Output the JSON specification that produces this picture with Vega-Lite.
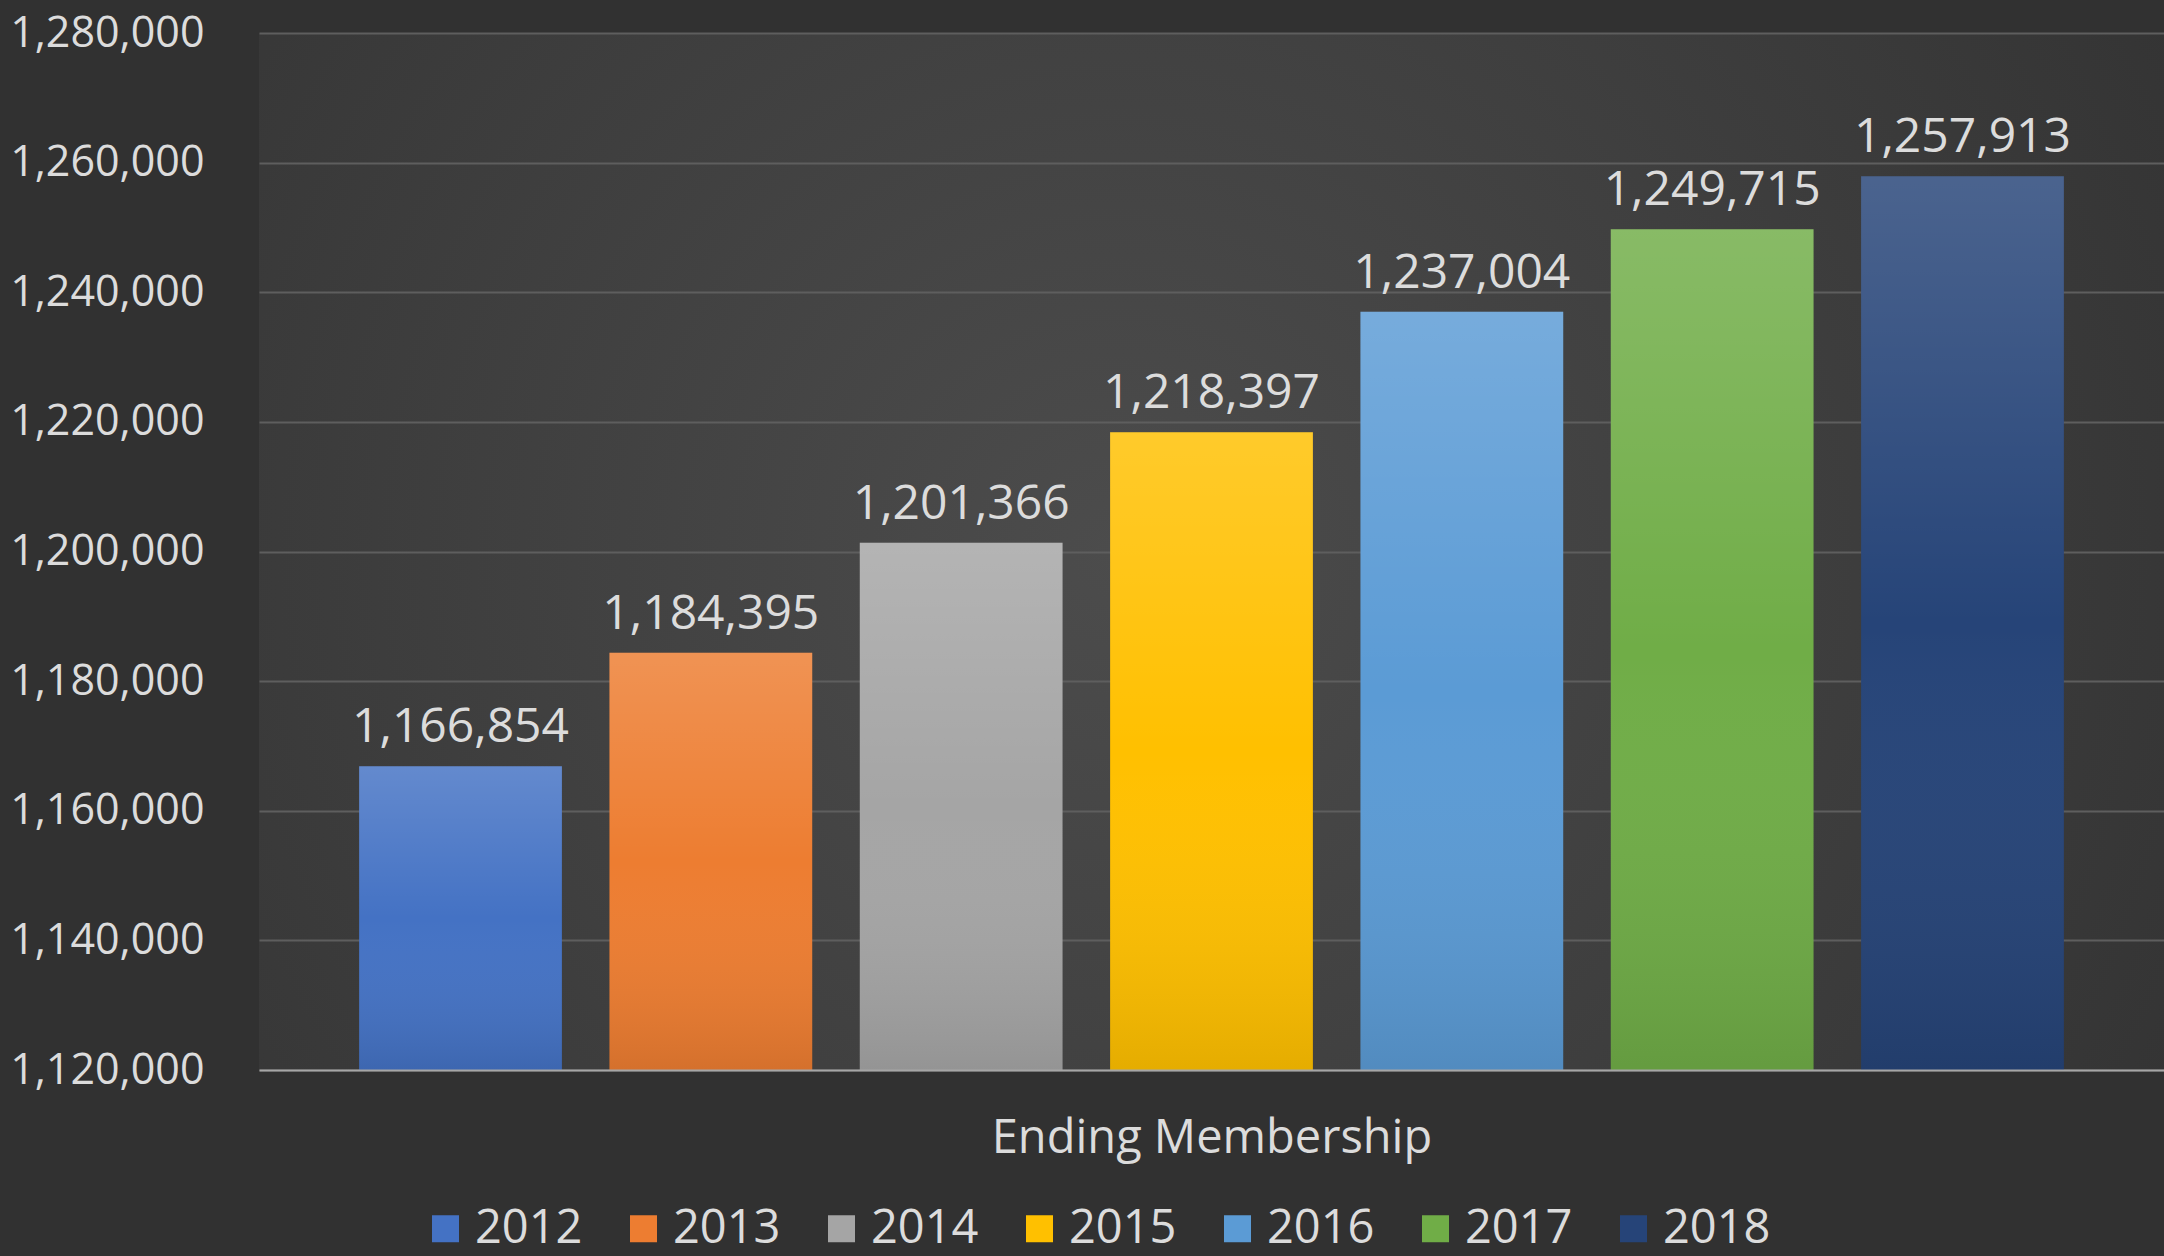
{
  "$schema": "https://vega.github.io/schema/vega-lite/v6.json",
  "width": 1905,
  "height": 1037,
  "autosize": {"type": "none"},
  "padding": {"left": 259, "top": 33, "right": 0, "bottom": 186},
  "background": "#313131",
  "config": {
    "font": "Open Sans",
    "view": {
      "stroke": null,
      "fill": {
        "gradient": "radial",
        "x1": 0.45, "y1": 0.5, "r1": 0,
        "x2": 0.45, "y2": 0.5, "r2": 0.7,
        "stops": [
          {"offset": 0, "color": "#4c4c4c"},
          {"offset": 1, "color": "#313131"}
        ]
      }
    }
  },
  "data": {
    "values": [
      {"year": "2012", "members": 1166854},
      {"year": "2013", "members": 1184395},
      {"year": "2014", "members": 1201366},
      {"year": "2015", "members": 1218397},
      {"year": "2016", "members": 1237004},
      {"year": "2017", "members": 1249715},
      {"year": "2018", "members": 1257913}
    ]
  },
  "encoding": {
    "x": {
      "field": "year",
      "type": "nominal",
      "scale": {"paddingInner": 0.19, "paddingOuter": 0.4},
      "axis": {
        "labels": false,
        "ticks": false,
        "grid": false,
        "title": "Ending Membership",
        "titleFont": "Open Sans",
        "titleFontSize": 47,
        "titleFontWeight": "normal",
        "titleColor": "#dcdcdc",
        "titlePadding": 45,
        "domainColor": "#a6a6a6",
        "domainWidth": 2,
        "zindex": 1
      }
    },
    "y": {
      "field": "members",
      "type": "quantitative",
      "scale": {"domain": [1120000, 1280000], "zero": false, "nice": false},
      "axis": {
        "title": null,
        "values": [1120000, 1140000, 1160000, 1180000, 1200000, 1220000, 1240000, 1260000, 1280000],
        "format": ",d",
        "labelFont": "Open Sans",
        "labelFontSize": 43,
        "labelColor": "#dcdcdc",
        "labelLimit": 0,
        "labelPadding": 55,
        "domain": false,
        "ticks": false,
        "grid": true,
        "gridColor": "#5e5e5e",
        "gridWidth": 2
      }
    },
    "y2": {"datum": 1120000}
  },
  "layer": [
    {
      "mark": {"type": "bar"},
      "encoding": {
        "color": {
          "field": "year",
          "type": "nominal",
          "scale": {
            "domain": ["2012", "2013", "2014", "2015", "2016", "2017", "2018"],
            "range": ["#4472c4", "#ed7d31", "#a5a5a5", "#ffc000", "#5b9bd5", "#70ad47", "#264478"]
          },
          "legend": {
            "title": null,
            "orient": "none",
            "direction": "horizontal",
            "legendX": 163,
            "legendY": 1172,
            "padding": 0,
            "symbolType": "square",
            "symbolSize": 729,
            "symbolStrokeWidth": 0,
            "symbolOpacity": 1,
            "labelFont": "Open Sans",
            "labelFontSize": 47,
            "labelColor": "#dcdcdc",
            "labelOffset": 6,
            "columnPadding": 37
          }
        }
      }
    },
    {
      "mark": {
        "type": "bar",
        "fill": {
          "gradient": "linear",
          "x1": 0, "y1": 0, "x2": 0, "y2": 1,
          "stops": [
            {"offset": 0, "color": "rgba(255,255,255,0.17)"},
            {"offset": 0.5, "color": "rgba(255,255,255,0.0)"},
            {"offset": 1, "color": "rgba(0,0,0,0.1)"}
          ]
        }
      },
      "encoding": {}
    },
    {
      "mark": {
        "type": "text",
        "baseline": "alphabetic",
        "dy": -24,
        "font": "Open Sans",
        "fontSize": 48,
        "color": "#dcdcdc"
      },
      "encoding": {
        "y2": null,
        "text": {"field": "members", "type": "quantitative", "format": ",d"}
      }
    }
  ]
}
